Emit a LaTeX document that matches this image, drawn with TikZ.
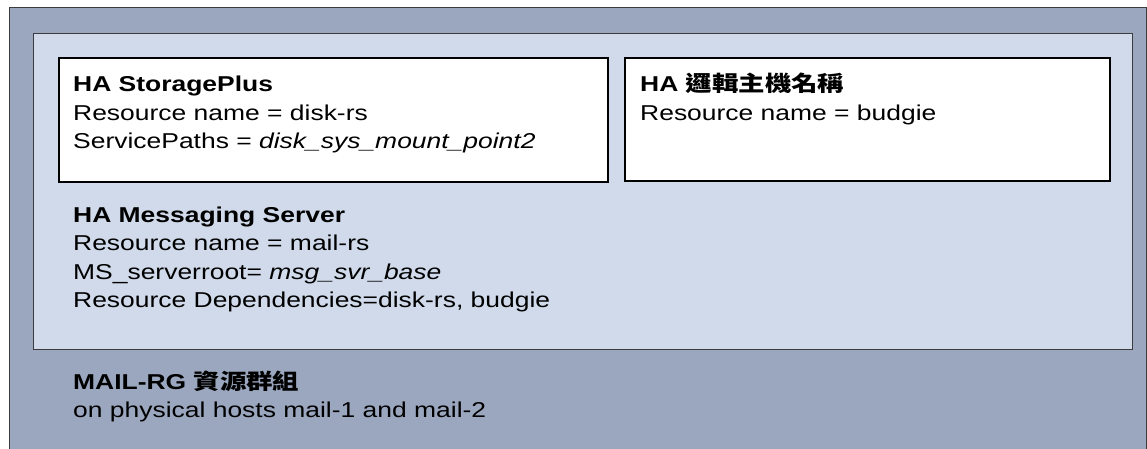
\documentclass[tikz,border=0pt]{standalone}
\usepackage{fontspec}
\setmainfont[FakeStretch=1.23]{Liberation Sans}
\newfontfamily\cjk[FakeStretch=1.23]{Noto Sans CJK TC}
\usetikzlibrary{positioning}

\definecolor{rgfill}{RGB}{155,167,190}
\definecolor{srvfill}{RGB}{208,218,234}
\definecolor{edgegray}{RGB}{60,60,60}

\tikzset{rgbox/.style={fill=rgfill, draw=none}}
\tikzset{srvbox/.style={fill=srvfill, draw=edgegray, line width=1pt}}
\tikzset{resbox/.style={fill=white, draw=black, line width=2.2pt}}
\tikzset{infotext/.style={anchor=base west, inner sep=0pt, align=left, font=\fontsize{21.5}{28.5}\selectfont}}

\begin{document}
\begin{tikzpicture}[x=1pt, y=-1pt]
		\useasboundingbox (0,0) rectangle (1147,449);

		%resource group
		\fill[rgbox] (9,8) rectangle (1147,449);
		\draw[edgegray, line width=1pt] (9,449) -- (9,8) -- (1146,8) -- (1146,449);
		\coordinate (rgcorner) at (9,8);

		%messaging server
		\node[srvbox, minimum width=1099pt, minimum height=316pt, anchor=north west, inner sep=0pt] (srv) at (33,33) {};

		%resources
		\node[resbox, minimum width=549pt, minimum height=124pt, anchor=north west, inner sep=0pt] (disk) at (58,57) {};
		\node[resbox, minimum width=485pt, minimum height=123pt, anchor=north west, inner sep=0pt] (host) at (624,57) {};

		%texts (anchored at the baseline of the last line)
		\node[infotext] (disktext) at (73,149) {\textbf{HA StoragePlus}\\ Resource name = disk-rs\\ ServicePaths = \textit{disk\_sys\_mount\_point2}};
		\node[infotext] (hosttext) at (640,120.5) {\textbf{HA {\cjk\bfseries 邏輯主機名稱}}\\ Resource name = budgie};
		\node[infotext] (srvtext) at (73,307.5) {\textbf{HA Messaging Server}\\ Resource name = mail-rs\\ MS\_serverroot= \textit{msg\_svr\_base}\\ Resource Dependencies=disk-rs, budgie};
		\node[infotext] (rgtext) at (73,417.5) {\textbf{MAIL-RG {\cjk\bfseries 資源群組}}\\ on physical hosts mail-1 and mail-2};

\end{tikzpicture}
\end{document}
